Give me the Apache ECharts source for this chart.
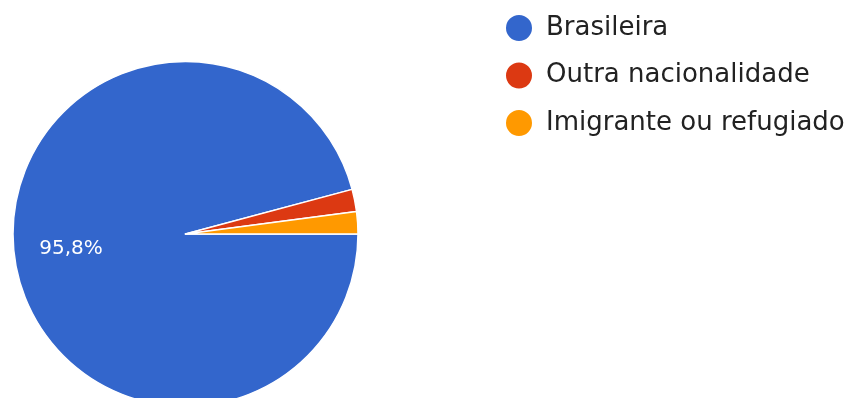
<!DOCTYPE html>
<html>
<head>
<meta charset="utf-8">
<script src="https://cdn.jsdelivr.net/npm/echarts@6/dist/echarts.min.js"></script>
<style>
  html, body { margin: 0; padding: 0; background: #ffffff; }
  #chart { width: 853px; height: 398px; }
</style>
</head>
<body>
<div id="chart"></div>
<script>
// Nationality of respondents (response counts)
const categories = ['Brasileira', 'Outra nacionalidade', 'Imigrante ou refugiado'];
const counts = [46, 1, 1];
const colors = ['#3366cc', '#dc3912', '#ff9900'];

const total = counts.reduce((a, b) => a + b, 0);

const data = categories.map((name, i) => ({
  name: name,
  value: counts[i],
  itemStyle: { color: colors[i] },
  // only slices large enough carry a percentage label
  label: { show: counts[i] / total > 0.05 }
}));

const chart = echarts.init(document.getElementById('chart'), null, { renderer: 'canvas' });

chart.setOption({
  animation: false,
  backgroundColor: '#ffffff',
  legend: {
    orient: 'vertical',
    left: 499,
    top: 8,
    icon: 'circle',
    itemWidth: 28,
    itemHeight: 28,
    itemGap: 17.5,
    selectedMode: false,
    textStyle: {
      fontFamily: '"DejaVu Sans", Arial, sans-serif',
      fontSize: 26,
      color: '#222222',
      padding: [0, 0, 0, 8]
    },
    data: categories
  },
  series: [{
    type: 'pie',
    center: [185.5, 234],
    radius: [0, 172.5],
    startAngle: 0,
    clockwise: true,
    avoidLabelOverlap: false,
    itemStyle: { borderColor: '#ffffff', borderWidth: 1.5 },
    emphasis: { disabled: true },
    label: {
      position: 'inside',
      formatter: (p) => (p.value / total * 100).toFixed(1).replace('.', ',') + '%',
      color: '#ffffff',
      fontFamily: '"DejaVu Sans", Arial, sans-serif',
      fontSize: 20
    },
    labelLine: { show: false },
    labelLayout: function () {
      return { dx: -26, dy: 3 };
    },
    data: data
  }]
});
</script>
</body>
</html>
